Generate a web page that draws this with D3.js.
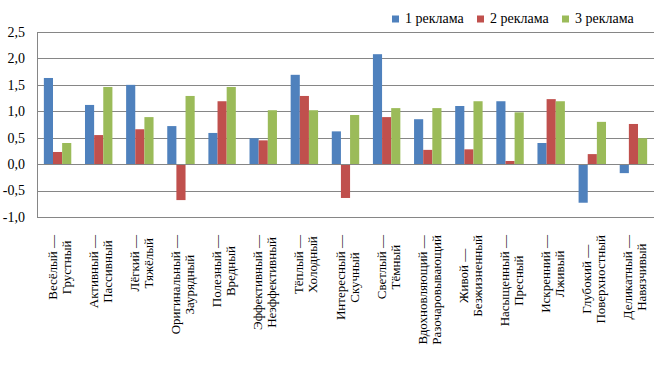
<!DOCTYPE html>
<meta charset="utf-8">
<style>
  body { margin: 0; background: #fff; font-family: 'Times New Roman', 'Liberation Serif', serif; }
  svg { display: block; }
  svg text { font-family: 'Times New Roman', 'Liberation Serif', serif !important; }
  .grid line { stroke: #868686; stroke-width: 1; }
</style>
<body>
<svg id="chart" width="654" height="369"></svg>
<script src="https://d3js.org/d3.v7.min.js"></script>
<script>
  // categories: two lines each (antonym pairs)
  var catLine1 = ["Весёлый —", "Активный —", "Лёгкий —", "Оригинальный —", "Полезный —",
    "Эффективный —", "Тёплый —", "Интересный —", "Светлый —", "Вдохновляющий —",
    "Живой —", "Насыщенный —", "Искренний —", "Глубокий —", "Деликатный —"]
  var catLine2 = ["Грустный", "Пассивный", "Тяжёлый", "Заурядный", "Вредный",
    "Неэффективный", "Холодный", "Скучный", "Тёмный", "Разочаровывающий",
    "Безжизненный", "Пресный", "Лживый", "Поверхностный", "Навязчивый"]

  var seriesNames = ["1 реклама", "2 реклама", "3 реклама"]
  var seriesColors = ["#4F81BD", "#C0504D", "#9BBB59"]

  var ad1 = [1.63, 1.12, 1.50, 0.72, 0.59, 0.49, 1.69, 0.62, 2.08, 0.85, 1.10, 1.19, 0.40, -0.73, -0.17]
  var ad2 = [0.23, 0.55, 0.66, -0.68, 1.19, 0.45, 1.29, -0.64, 0.89, 0.27, 0.28, 0.06, 1.23, 0.19, 0.76]
  var ad3 = [0.40, 1.46, 0.89, 1.29, 1.46, 1.02, 1.02, 0.93, 1.06, 1.06, 1.19, 0.98, 1.19, 0.80, 0.49]

  var yTicks = [-1.0, -0.5, 0.0, 0.5, 1.0, 1.5, 2.0, 2.5]

  var plotLeft = 37, plotRight = 654, plotTop = 32, plotBottom = 217
  var fam = "Times New Roman"

  var svg = d3.select("#chart")

  var idx = d3.range(catLine1.length)
  var seriesData = [ad1, ad2, ad3]

  var x = d3.scaleBand().domain(idx).range([plotLeft, plotRight]).paddingInner(0).paddingOuter(0)
  var x1 = d3.scaleBand().domain([0, 1, 2]).range([0, x.bandwidth()]).paddingInner(0).paddingOuter(0.75)
  var y = d3.scaleLinear().domain([-1, 2.5]).range([plotBottom, plotTop])

  // gridlines
  svg.append("g").attr("class", "grid")
    .selectAll("line").data(yTicks).enter().append("line")
    .attr("x1", plotLeft).attr("x2", plotRight)
    .attr("y1", function (d) { return Math.round(y(d)) + 0.5 })
    .attr("y2", function (d) { return Math.round(y(d)) + 0.5 })

  // left axis line
  svg.append("g").attr("class", "grid").append("line")
    .attr("x1", plotLeft + 0.5).attr("x2", plotLeft + 0.5)
    .attr("y1", Math.round(y(2.5)) + 0.5).attr("y2", Math.round(y(-1)) + 0.5)

  // y labels
  svg.append("g")
    .selectAll("text").data(yTicks).enter().append("text")
    .attr("font-family", fam)
    .attr("font-size", 14)
    .attr("x", 25)
    .attr("y", function (d) { return y(d) })
    .attr("dy", "0.35em")
    .attr("text-anchor", "end")
    .text(function (d) { return d3.format(".1f")(d).replace(".", ",").replace("−", "-") })

  // bars
  var groups = svg.append("g").selectAll("g").data(seriesData).enter().append("g")
    .attr("fill", function (d, i) { return seriesColors[i] })

  groups.each(function (vals, si) {
    d3.select(this).selectAll("rect").data(vals).enter().append("rect")
      .attr("x", function (d, i) { return x(i) + x1(si) })
      .attr("width", x1.bandwidth())
      .attr("y", function (d) { return y(Math.max(0, d)) })
      .attr("height", function (d) { return Math.abs(y(d) - y(0)) })
  })

  // zero line over bars
  svg.append("g").attr("class", "grid").append("line")
    .attr("x1", plotLeft).attr("x2", plotRight)
    .attr("y1", Math.round(y(0)) + 0.5).attr("y2", Math.round(y(0)) + 0.5)

  // category labels, rotated
  var cat = svg.append("g")
    .selectAll("g").data(idx).enter().append("g")

  cat.each(function (i) {
    var g = d3.select(this)
    g.append("text").attr("class", "l1")
      .attr("font-family", fam).attr("font-size", 13)
      .attr("text-anchor", "middle").attr("y", -1).text(catLine1[i])
    g.append("text").attr("class", "l2")
      .attr("font-family", fam).attr("font-size", 13)
      .attr("text-anchor", "middle").attr("y", 13).text(catLine2[i])
  })

  function placeLabels() {
    cat.each(function (i) {
      var g = d3.select(this)
      var w = Math.max(g.select(".l1").node().getComputedTextLength(),
        g.select(".l2").node().getComputedTextLength())
      var cx = x(i) + x.bandwidth() / 2
      var cy = 235 + w / 2
      g.attr("transform", "translate(" + cx + "," + cy + ") rotate(-90)")
    })
  }
  placeLabels()
  if (document.fonts) document.fonts.ready.then(placeLabels)

  // legend
  var legend = svg.append("g")
    .selectAll("g").data(seriesNames).enter().append("g")
    .attr("transform", function (d, i) { return "translate(" + (392 + i * 85) + ",0)" })

  legend.append("rect")
    .attr("x", 0).attr("y", 15.5).attr("width", 7).attr("height", 7)
    .attr("fill", function (d, i) { return seriesColors[i] })

  legend.append("text")
    .attr("font-family", fam)
    .attr("font-size", 14)
    .attr("x", 13).attr("y", 23)
    .text(function (d) { return d })
</script>
</body>
